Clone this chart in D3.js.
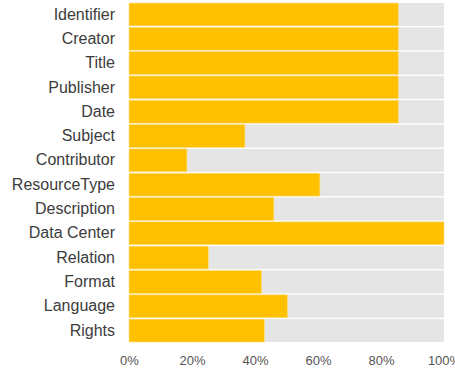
<!DOCTYPE html>
<html>
<head>
<meta charset="utf-8">
<script src="https://cdn.jsdelivr.net/npm/d3@7"></script>
<style>
body { margin: 0; background: #fff; }
svg { display: block; }
svg text { font-family: "Liberation Sans", Arial, sans-serif; }
</style>
</head>
<body>
<svg id="chart" width="455" height="374"></svg>
<script>
// Share of records that fill each field
const fields = ["Identifier", "Creator", "Title", "Publisher", "Date", "Subject", "Contributor",
    "ResourceType", "Description", "Data Center", "Relation", "Format", "Language", "Rights"];
const shares = [0.855, 0.855, 0.855, 0.855, 0.855, 0.368, 0.184,
    0.606, 0.46, 1.0, 0.252, 0.421, 0.503, 0.43];
const ticks = [0, 0.2, 0.4, 0.6, 0.8, 1.0];

let svg = d3.select("#chart");
let pad = {t: 3, r: 11, b: 32, l: 129};
let w = +svg.attr("width") - pad.l - pad.r;
let h = +svg.attr("height") - pad.t - pad.b;

let x = d3.scaleLinear().domain([0, 1]).range([0, w]);
let y = d3.scaleBand().domain(fields).range([0, h]).paddingInner(0.06);

let g = svg.append("g").attr("transform", `translate(${pad.l}, ${pad.t})`);

// grey track behind every bar
g.selectAll(".track")
    .data(fields)
    .enter()
    .append("rect")
    .attr("class", "track")
    .attr("x", 0)
    .attr("y", d => y(d))
    .attr("width", x(1))
    .attr("height", y.bandwidth())
    .attr("fill", "#e5e5e5");

g.selectAll(".bar")
    .data(fields)
    .enter()
    .append("rect")
    .attr("class", "bar")
    .attr("x", 0)
    .attr("y", d => y(d))
    .attr("width", (d, i) => x(shares[i]))
    .attr("height", y.bandwidth())
    .attr("fill", "#ffc000")
    .attr("stroke", "#ffe08a")
    .attr("stroke-width", 0.6);

// category labels
let yAxis = g.append("g")
    .attr("font-family", null)
    .call(d3.axisLeft(y).tickSize(0).tickPadding(14));
yAxis.select(".domain").remove();
yAxis.selectAll("text")
    .style("font-family", "'Liberation Sans', Arial, sans-serif")
    .style("font-size", "16px")
    .attr("fill", "#3c3c3c");

// percent ticks
let xAxis = g.append("g")
    .attr("transform", `translate(0, ${h})`)
    .call(d3.axisBottom(x).tickValues(ticks).tickFormat(d3.format(".0%")).tickSize(0).tickPadding(14));
xAxis.select(".domain").remove();
xAxis.selectAll("text")
    .style("font-family", "'Liberation Sans', Arial, sans-serif")
    .style("font-size", "13px")
    .attr("fill", "#555");
</script>
</body>
</html>
